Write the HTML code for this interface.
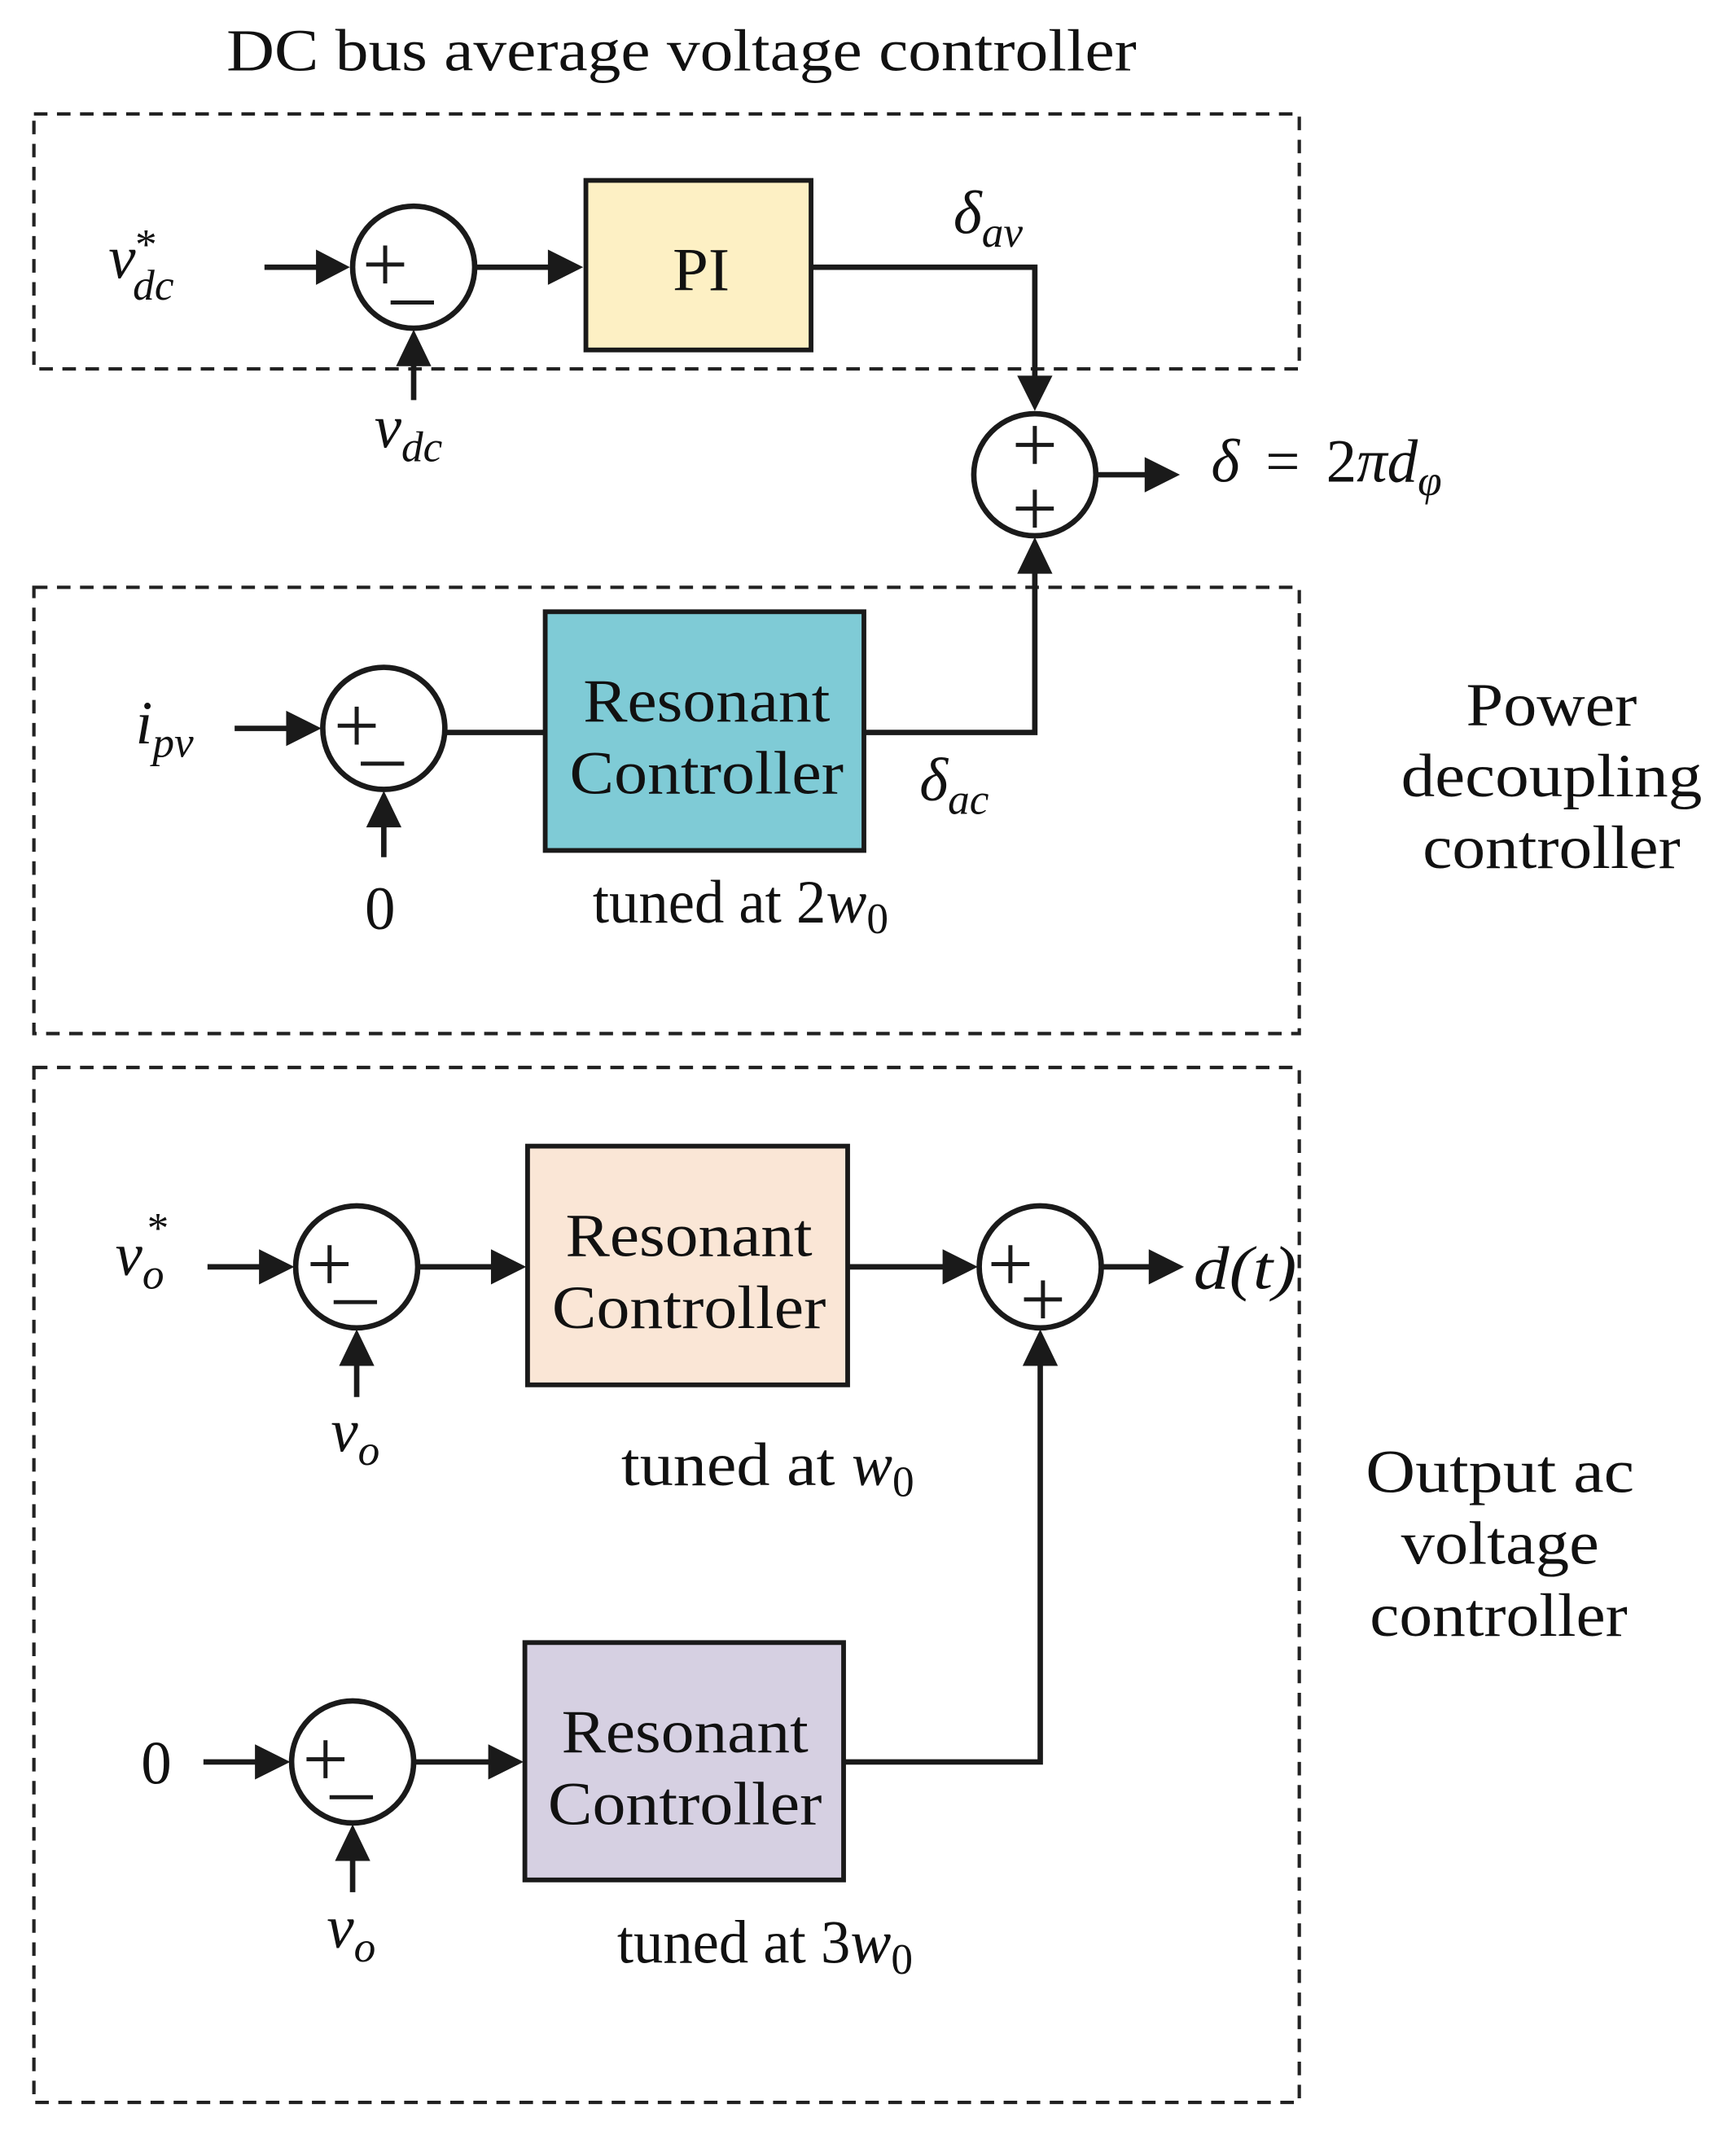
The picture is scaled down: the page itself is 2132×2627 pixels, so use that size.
<!DOCTYPE html>
<html><head><meta charset="utf-8"><style>
html,body{margin:0;padding:0;background:#fff}
svg{display:block}
text{font-family:"Liberation Serif",serif;fill:#111}
.i{font-style:italic}
</style></head><body>
<svg width="2132" height="2627" viewBox="0 0 1280 1577" preserveAspectRatio="none" xmlns="http://www.w3.org/2000/svg">
<g fill="none" stroke="#222" stroke-width="2.5" stroke-dasharray="10,7">
<rect x="25" y="84" width="933" height="188"/>
<rect x="25" y="433" width="933" height="329"/>
<rect x="25" y="787" width="933" height="763"/>
</g>
<text x="167" y="52" font-size="44" textLength="671" lengthAdjust="spacingAndGlyphs">DC bus average voltage controller</text>
<g stroke="#1a1a1a" stroke-width="4" fill="none">
<circle cx="305" cy="197" r="45" fill="#fff"/>
<line x1="195" y1="197" x2="240" y2="197"/>
<line x1="350" y1="197" x2="412" y2="197"/>
<line x1="305" y1="295" x2="305" y2="262"/>
<polyline points="598,197 763,197 763,285"/>
<circle cx="763" cy="350" r="45" fill="#fff"/>
<line x1="808" y1="350" x2="852" y2="350"/>
<circle cx="283" cy="537" r="45" fill="#fff"/>
<line x1="173" y1="537" x2="220" y2="537"/>
<line x1="283" y1="632" x2="283" y2="602"/>
<line x1="328" y1="540" x2="402" y2="540"/>
<polyline points="637,540 763,540 763,415"/>
<circle cx="263" cy="934" r="45" fill="#fff"/>
<line x1="153" y1="934" x2="200" y2="934"/>
<line x1="263" y1="1030" x2="263" y2="999"/>
<line x1="308" y1="934" x2="370" y2="934"/>
<line x1="625" y1="934" x2="702" y2="934"/>
<circle cx="767" cy="934" r="45" fill="#fff"/>
<line x1="812" y1="934" x2="855" y2="934"/>
<circle cx="260" cy="1299" r="45" fill="#fff"/>
<line x1="150" y1="1299" x2="197" y2="1299"/>
<line x1="260" y1="1395" x2="260" y2="1364"/>
<line x1="305" y1="1299" x2="368" y2="1299"/>
<polyline points="622,1299 767,1299 767,999"/>
</g>
<g fill="#1a1a1a">
<polygon points="258,197 233,184 233,210"/>
<polygon points="430,197 404,184 404,210"/>
<polygon points="305,243 292,270 318,270"/>
<polygon points="763,303 750,277 776,277"/>
<polygon points="870,350 844,337 844,363"/>
<polygon points="237,537 211,524 211,550"/>
<polygon points="283,583 270,610 296,610"/>
<polygon points="763,396 750,423 776,423"/>
<polygon points="217,934 191,921 191,947"/>
<polygon points="388,934 362,921 362,947"/>
<polygon points="263,980 250,1007 276,1007"/>
<polygon points="721,934 695,921 695,947"/>
<polygon points="873,934 847,921 847,947"/>
<polygon points="214,1299 188,1286 188,1312"/>
<polygon points="386,1299 360,1286 360,1312"/>
<polygon points="260,1345 247,1372 273,1372"/>
<polygon points="767,980 754,1007 780,1007"/>
</g>
<g stroke="#1a1a1a" stroke-width="3.5" fill="none">
<rect x="432" y="133" width="166" height="125" fill="#fdf0c4"/>
<rect x="402" y="451" width="235" height="176" fill="#7fcbd6"/>
<rect x="389" y="845" width="236" height="176" fill="#fae6d6"/>
<rect x="387" y="1211" width="235" height="175" fill="#d6d0e2"/>
</g>
<g stroke="#1a1a1a" stroke-width="3">
<line x1="270" y1="195" x2="298" y2="195"/><line x1="284" y1="181" x2="284" y2="209"/>
<line x1="288" y1="223" x2="320" y2="223"/>
<line x1="749" y1="328" x2="777" y2="328"/><line x1="763" y1="314" x2="763" y2="342"/>
<line x1="749" y1="375" x2="777" y2="375"/><line x1="763" y1="361" x2="763" y2="389"/>
<line x1="249" y1="535" x2="277" y2="535"/><line x1="263" y1="521" x2="263" y2="549"/>
<line x1="266" y1="563" x2="298" y2="563"/>
<line x1="229" y1="932" x2="257" y2="932"/><line x1="243" y1="918" x2="243" y2="946"/>
<line x1="246" y1="960" x2="278" y2="960"/>
<line x1="731" y1="932" x2="759" y2="932"/><line x1="745" y1="918" x2="745" y2="946"/>
<line x1="755" y1="958" x2="783" y2="958"/><line x1="769" y1="944" x2="769" y2="972"/>
<line x1="226" y1="1297" x2="254" y2="1297"/><line x1="240" y1="1283" x2="240" y2="1311"/>
<line x1="243" y1="1325" x2="275" y2="1325"/>
</g>
<g font-size="45">
<text x="496" y="214" textLength="42" lengthAdjust="spacingAndGlyphs">PI</text>
<text x="430" y="532" textLength="182" lengthAdjust="spacingAndGlyphs">Resonant</text>
<text x="420" y="585" textLength="202" lengthAdjust="spacingAndGlyphs">Controller</text>
<text x="417" y="926" textLength="182" lengthAdjust="spacingAndGlyphs">Resonant</text>
<text x="407" y="979" textLength="202" lengthAdjust="spacingAndGlyphs">Controller</text>
<text x="414" y="1292" textLength="182" lengthAdjust="spacingAndGlyphs">Resonant</text>
<text x="404" y="1345" textLength="202" lengthAdjust="spacingAndGlyphs">Controller</text>
<text x="1081" y="535" textLength="126" lengthAdjust="spacingAndGlyphs">Power</text>
<text x="1033" y="587" textLength="222" lengthAdjust="spacingAndGlyphs">decoupling</text>
<text x="1049" y="640" textLength="190" lengthAdjust="spacingAndGlyphs">controller</text>
<text x="1007" y="1100" textLength="198" lengthAdjust="spacingAndGlyphs">Output ac</text>
<text x="1033" y="1153" textLength="146" lengthAdjust="spacingAndGlyphs">voltage</text>
<text x="1010" y="1206" textLength="190" lengthAdjust="spacingAndGlyphs">controller</text>
<text x="269" y="685">0</text>
<text x="104" y="1315">0</text>
</g>
<g font-size="45">
<text x="437" y="680"><tspan textLength="172" lengthAdjust="spacingAndGlyphs">tuned at 2</tspan><tspan class="i">w</tspan><tspan font-size="32" dy="8">0</tspan></text>
<text x="458" y="1095"><tspan textLength="170" lengthAdjust="spacingAndGlyphs">tuned at </tspan><tspan class="i">w</tspan><tspan font-size="32" dy="8">0</tspan></text>
<text x="455" y="1447"><tspan textLength="172" lengthAdjust="spacingAndGlyphs">tuned at 3</tspan><tspan class="i">w</tspan><tspan font-size="32" dy="8">0</tspan></text>
<text x="80" y="205" class="i">v<tspan font-size="32" dx="-2" dy="16">dc</tspan><tspan font-size="32" dx="-30" dy="-30">*</tspan></text>
<text x="276" y="330" class="i">v<tspan font-size="32" dy="10">dc</tspan></text>
<text x="703" y="172" class="i">δ<tspan font-size="32" dy="10">av</tspan></text>
<text x="678" y="590" class="i">δ<tspan font-size="32" dy="10">ac</tspan></text>
<text x="100" y="548" class="i">i<tspan font-size="32" dy="10">pv</tspan></text>
<text x="893" y="355"><tspan class="i">δ</tspan> <tspan dx="8">=</tspan> <tspan dx="8">2</tspan><tspan class="i">πd</tspan><tspan class="i" font-size="32" dy="10">φ</tspan></text>
<text x="85" y="940" class="i">v<tspan font-size="32" dy="10">o</tspan><tspan font-size="32" dx="-14" dy="-34">*</tspan></text>
<text x="244" y="1070" class="i">v<tspan font-size="32" dy="10">o</tspan></text>
<text x="241" y="1436" class="i">v<tspan font-size="32" dy="10">o</tspan></text>
<text x="880" y="950" class="i" textLength="76" lengthAdjust="spacingAndGlyphs">d(t)</text>
</g>
</svg>
</body></html>
